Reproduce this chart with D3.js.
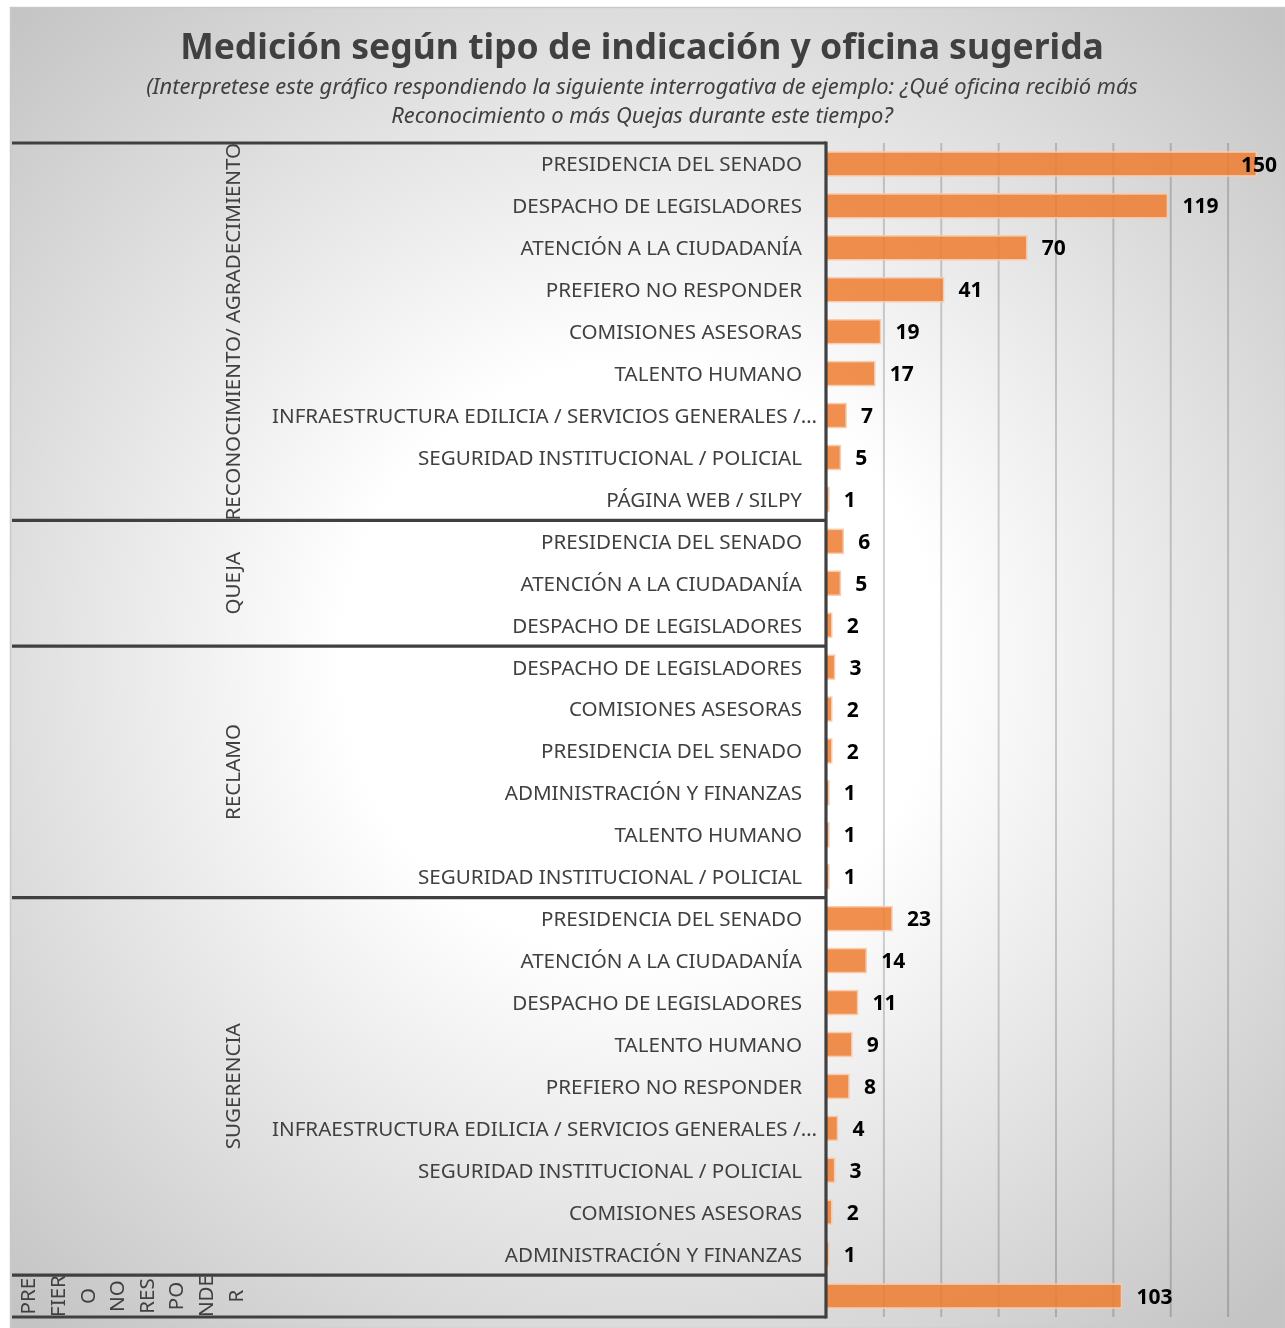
<!DOCTYPE html>
<html>
<head>
<meta charset="utf-8">
<script src="https://cdn.jsdelivr.net/npm/d3@7"></script>
<style>
    body { margin: 0; background: #fff; }
    text { font-family: "Noto Sans", "Open Sans", sans-serif; }
</style>
</head>
<body>
<div id="chart"></div>
<script>

// data
const groupNames = ["RECONOCIMIENTO/ AGRADECIMIENTO", "QUEJA", "RECLAMO", "SUGERENCIA", "PREFIERO NO RESPONDER"];

const reconocimientoOficinas = ["PRESIDENCIA DEL SENADO", "DESPACHO DE LEGISLADORES", "ATENCIÓN A LA CIUDADANÍA", "PREFIERO NO RESPONDER", "COMISIONES ASESORAS", "TALENTO HUMANO", "INFRAESTRUCTURA EDILICIA / SERVICIOS GENERALES /…", "SEGURIDAD INSTITUCIONAL / POLICIAL", "PÁGINA WEB / SILPY"];
const reconocimientoValores = [150, 119, 70, 41, 19, 17, 7, 5, 1];

const quejaOficinas = ["PRESIDENCIA DEL SENADO", "ATENCIÓN A LA CIUDADANÍA", "DESPACHO DE LEGISLADORES"];
const quejaValores = [6, 5, 2];

const reclamoOficinas = ["DESPACHO DE LEGISLADORES", "COMISIONES ASESORAS", "PRESIDENCIA DEL SENADO", "ADMINISTRACIÓN Y FINANZAS", "TALENTO HUMANO", "SEGURIDAD INSTITUCIONAL / POLICIAL"];
const reclamoValores = [3, 2, 2, 1, 1, 1];

const sugerenciaOficinas = ["PRESIDENCIA DEL SENADO", "ATENCIÓN A LA CIUDADANÍA", "DESPACHO DE LEGISLADORES", "TALENTO HUMANO", "PREFIERO NO RESPONDER", "INFRAESTRUCTURA EDILICIA / SERVICIOS GENERALES /…", "SEGURIDAD INSTITUCIONAL / POLICIAL", "COMISIONES ASESORAS", "ADMINISTRACIÓN Y FINANZAS"];
const sugerenciaValores = [23, 14, 11, 9, 8, 4, 3, 2, 1];

const noRespondeOficinas = [""];
const noRespondeValores = [103];

// the last group label wraps like this in the original
const noRespondeLineas = ["PRE", "FIER", "O", "NO", "RES", "PO", "NDE", "R"];

const gridTicks = [20, 40, 60, 80, 100, 120, 140];

const titulo = "Medición según tipo de indicación y oficina sugerida";
const subtitulo = [
    "(Interpretese este gráfico respondiendo la siguiente interrogativa de ejemplo: ¿Qué oficina recibió más",
    "Reconocimiento o más Quejas durante este tiempo?"
];

// build rows
const grupos = [
    { name: groupNames[0], oficinas: reconocimientoOficinas, valores: reconocimientoValores },
    { name: groupNames[1], oficinas: quejaOficinas, valores: quejaValores },
    { name: groupNames[2], oficinas: reclamoOficinas, valores: reclamoValores },
    { name: groupNames[3], oficinas: sugerenciaOficinas, valores: sugerenciaValores },
    { name: groupNames[4], oficinas: noRespondeOficinas, valores: noRespondeValores }
];

const rows = [];
grupos.forEach((g, gi) => {
    g.start = rows.length;
    g.oficinas.forEach((o, i) => {
        rows.push({ id: rows.length, grupo: gi, oficina: o, valor: g.valores[i] });
    });
    g.end = rows.length;
});

const W = 1285, H = 1328;
const axisX = 826, plotTop = 143, plotBottom = 1317;

const svg = d3
    .select("#chart")
    .append("svg")
    .attr("width", W)
    .attr("height", H);

// background
const grad = svg.append("defs").append("radialGradient")
    .attr("id", "bg")
    .attr("gradientUnits", "userSpaceOnUse")
    .attr("cx", 640).attr("cy", 660).attr("r", 900);
grad.append("stop").attr("offset", 0.33).attr("stop-color", "#ffffff");
grad.append("stop").attr("offset", 1).attr("stop-color", "#c4c4c4");

svg.append("rect")
    .attr("x", 10.5).attr("y", 7.5)
    .attr("width", W - 10).attr("height", H - 7)
    .style("fill", "url(#bg)")
    .style("stroke", "#c9c9c9")
    .style("stroke-width", 1.5);

// scales
const x = d3.scaleLinear().domain([0, 160]).range([axisX, W]);
const y = d3.scaleBand()
    .domain(rows.map(d => d.id))
    .range([plotTop, plotBottom])
    .paddingInner(0.43)
    .paddingOuter(0.215);
const step = y.step();
const rowTop = i => plotTop + i * step;

// gridlines
svg.append("g")
    .attr("class", "grid")
    .attr("transform", `translate(0, ${plotTop})`)
    .call(d3.axisBottom(x).tickValues(gridTicks).tickSize(plotBottom - plotTop).tickFormat(""))
    .call(g => g.select(".domain").remove())
    .call(g => g.selectAll("line")
        .style("stroke", "#d2d2d2")
        .style("stroke-width", 2)
        .style("mix-blend-mode", "multiply"));

// bars
svg.append("g")
    .selectAll("rect")
    .data(rows)
    .join("rect")
    .attr("x", x(0))
    .attr("y", d => y(d.id))
    .attr("width", d => x(d.valor) - x(0))
    .attr("height", y.bandwidth())
    .style("fill", "#ED7D31")
    .style("fill-opacity", 0.86)
    .style("stroke", "#F8CBAD")
    .style("stroke-width", 1.5);

// value labels
svg.append("g")
    .selectAll("text")
    .data(rows)
    .join("text")
    .attr("x", d => x(d.valor) + 15)
    .attr("y", d => y(d.id) + y.bandwidth() / 2)
    .attr("dy", "0.36em")
    .style("font-size", "21px")
    .style("font-weight", "bold")
    .style("fill", "#000")
    .text(d => d.valor)
    .each(function () {
        // keep label inside the chart like excel does
        const w = this.getComputedTextLength();
        const x0 = +d3.select(this).attr("x");
        if (x0 + w > 1277) d3.select(this).attr("x", 1277 - w);
    });

// office labels
svg.append("g")
    .selectAll("text")
    .data(rows)
    .join("text")
    .attr("x", 802)
    .attr("y", d => y(d.id) + y.bandwidth() / 2)
    .attr("dy", "0.36em")
    .attr("text-anchor", "end")
    .style("font-size", "20.6px")
    .style("fill", "#404040")
    .text(d => d.oficina)
    .each(function () {
        const w = this.getComputedTextLength();
        if (802 - w < 272) d3.select(this).attr("text-anchor", "start").attr("x", 272);
    });

// group labels
const grpText = svg.append("g");
grupos.forEach((g, gi) => {
    const cy = (rowTop(g.start) + rowTop(g.end)) / 2;
    if (gi < grupos.length - 1) {
        grpText.append("text")
            .attr("transform", `translate(233, ${cy}) rotate(-90)`)
            .attr("dy", "0.36em")
            .attr("text-anchor", "middle")
            .style("font-size", "20.6px")
            .style("fill", "#404040")
            .text(g.name);
    } else {
        noRespondeLineas.forEach((t, k) => {
            grpText.append("text")
                .attr("transform", `translate(${28 + k * 29.6}, ${cy}) rotate(-90)`)
                .attr("dy", "0.36em")
                .attr("text-anchor", "middle")
                .style("font-size", "20.6px")
                .style("fill", "#404040")
                .text(t);
        });
    }
});

// frame lines between groups
const sep = [0].concat(grupos.map(g => g.end));
svg.append("g")
    .selectAll("line")
    .data(sep)
    .join("line")
    .attr("x1", 12)
    .attr("x2", axisX)
    .attr("y1", d => rowTop(d))
    .attr("y2", d => rowTop(d))
    .style("stroke", "#404040")
    .style("stroke-width", 3.2);

svg.append("line")
    .attr("x1", axisX).attr("x2", axisX)
    .attr("y1", plotTop - 1.5).attr("y2", plotBottom + 1.5)
    .style("stroke", "#404040")
    .style("stroke-width", 3.2);

// titles
svg.append("text")
    .attr("x", 642)
    .attr("y", 59)
    .attr("text-anchor", "middle")
    .style("font-size", "35.5px")
    .style("font-weight", "bold")
    .style("fill", "#404040")
    .text(titulo);

svg.append("g")
    .selectAll("text")
    .data(subtitulo)
    .join("text")
    .attr("x", 642)
    .attr("y", (d, i) => 94 + i * 29)
    .attr("text-anchor", "middle")
    .style("font-size", "21.9px")
    .style("font-style", "italic")
    .style("fill", "#404040")
    .text(d => d);

</script>
</body>
</html>
